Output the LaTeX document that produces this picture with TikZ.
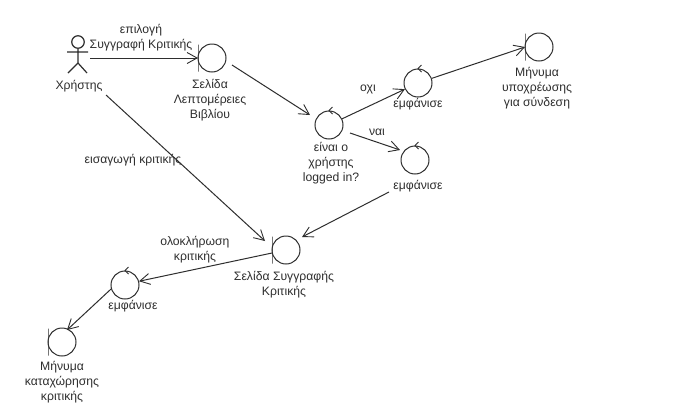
\documentclass[tikz,border=0pt]{standalone}
\usepackage{fontspec}
\setmainfont{Liberation Sans}
\usetikzlibrary{arrows.meta}
\definecolor{ink}{HTML}{2E2E2E}
\tikzset{
  x=1pt,y=-1pt,
  obj/.style={circle,draw=ink,line width=1pt,minimum size=28pt,inner sep=0pt,fill=white},
  barline/.style={draw=ink,line width=1pt,rectangle,minimum width=0pt,minimum height=27pt,inner sep=0pt},
  lab/.style={text=ink,font=\fontsize{12.2}{15}\selectfont,align=center,inner sep=0pt},
  conn/.style={draw=ink,line width=1pt,-{Straight Barb[length=10pt,width=11pt,line width=0.9pt]}},
  tick/.style={draw=ink,line width=0.8pt},
  stick/.style={draw=ink,line width=1.2pt}
}
\newcommand{\ctick}[1]{\draw[tick] ([xshift=3.5pt,yshift=-3.5pt]#1.north) -- (#1.north) -- ([xshift=3.5pt,yshift=3.5pt]#1.north);}
\begin{document}
\begin{tikzpicture}
\useasboundingbox[fill=white] (0,0) rectangle (681,413);
% actor
\node[circle,draw=ink,line width=1.2pt,minimum size=12.5pt,inner sep=0pt] (head) at (78,42) {};
\coordinate (hip) at (78,63);
\coordinate (armL) at (67,52);
\coordinate (armR) at (88,52);
\coordinate (legL) at (68,73);
\coordinate (legR) at (87,73);
\draw[stick] (head.south) -- (hip) (armL) -- (armR) (legL) -- (hip) -- (legR);
% boundaries
\node[obj] (b1) at (212,58) {};
\node[barline] (b1bar) at (198,58) {};
\node[obj] (b2) at (539,47) {};
\node[barline] (b2bar) at (525,47) {};
\node[obj] (b3) at (286,250) {};
\node[barline] (b3bar) at (272,250) {};
\node[obj] (b4) at (62,342) {};
\node[barline] (b4bar) at (48,342) {};
% controllers
\node[obj] (c1) at (329,125) {};
\node[obj] (c2) at (418,83) {};
\node[obj] (c3) at (415,160) {};
\node[obj] (c4) at (125,285) {};
\ctick{c1}\ctick{c2}\ctick{c3}\ctick{c4}
% labels
\node[lab] (lactor) at (79,86) {Χρήστης};
\node[lab] (lb1) at (210,100) {Σελίδα\\Λεπτομέρειες\\Βιβλίου};
\node[lab] (lb2) at (537,88) {Μήνυμα\\υποχρέωσης\\για σύνδεση};
\node[lab] (lb3) at (284,285) {Σελίδα Συγγραφής\\Κριτικής};
\node[lab] (lb4) at (62,382) {Μήνυμα\\καταχώρησης\\κριτικής};
\node[lab] (lc1) at (331,163) {είναι ο\\χρήστης\\logged in?};
\node[lab] (lc2) at (418,104) {εμφάνισε};
\node[lab] (lc3) at (418,186) {εμφάνισε};
\node[lab] (lc4) at (133,306) {εμφάνισε};
\node[lab] (e1) at (141,38) {επιλογή\\Συγγραφή Κριτικής};
\node[lab] (e2) at (133,160) {εισαγωγή κριτικής};
\node[lab] (e3) at (368,89) {οχι};
\node[lab] (e4) at (377,132) {ναι};
\node[lab] (e5) at (195,250) {ολοκλήρωση\\κριτικής};
% connector free ends
\coordinate (actorR) at (90,58);
\coordinate (actorB) at (106,95);
\coordinate (b1out) at (232,65);
\coordinate (c1inn) at (310,115);
\coordinate (c3in) at (400,150);
\coordinate (c1outb) at (350,133);
\coordinate (c3out) at (389,192);
\coordinate (b3inR) at (302,237);
\coordinate (b3inL) at (265,241);
\coordinate (b3out) at (272,253);
\coordinate (b4in) at (67,330);
% connectors
\draw[conn] (actorR) -- (b1bar.center);
\draw[conn] (b1out) -- (c1inn);
\draw[conn] (c1) -- (c2);
\draw[conn] (c2) -- (b2bar.center);
\draw[conn] (c1outb) -- (c3in);
\draw[conn] (c3out) -- (b3inR);
\draw[conn] (actorB) -- (b3inL);
\draw[conn] (b3out) -- (c4.15);
\draw[conn] (c4.196) -- (b4in);
\end{tikzpicture}
\end{document}
